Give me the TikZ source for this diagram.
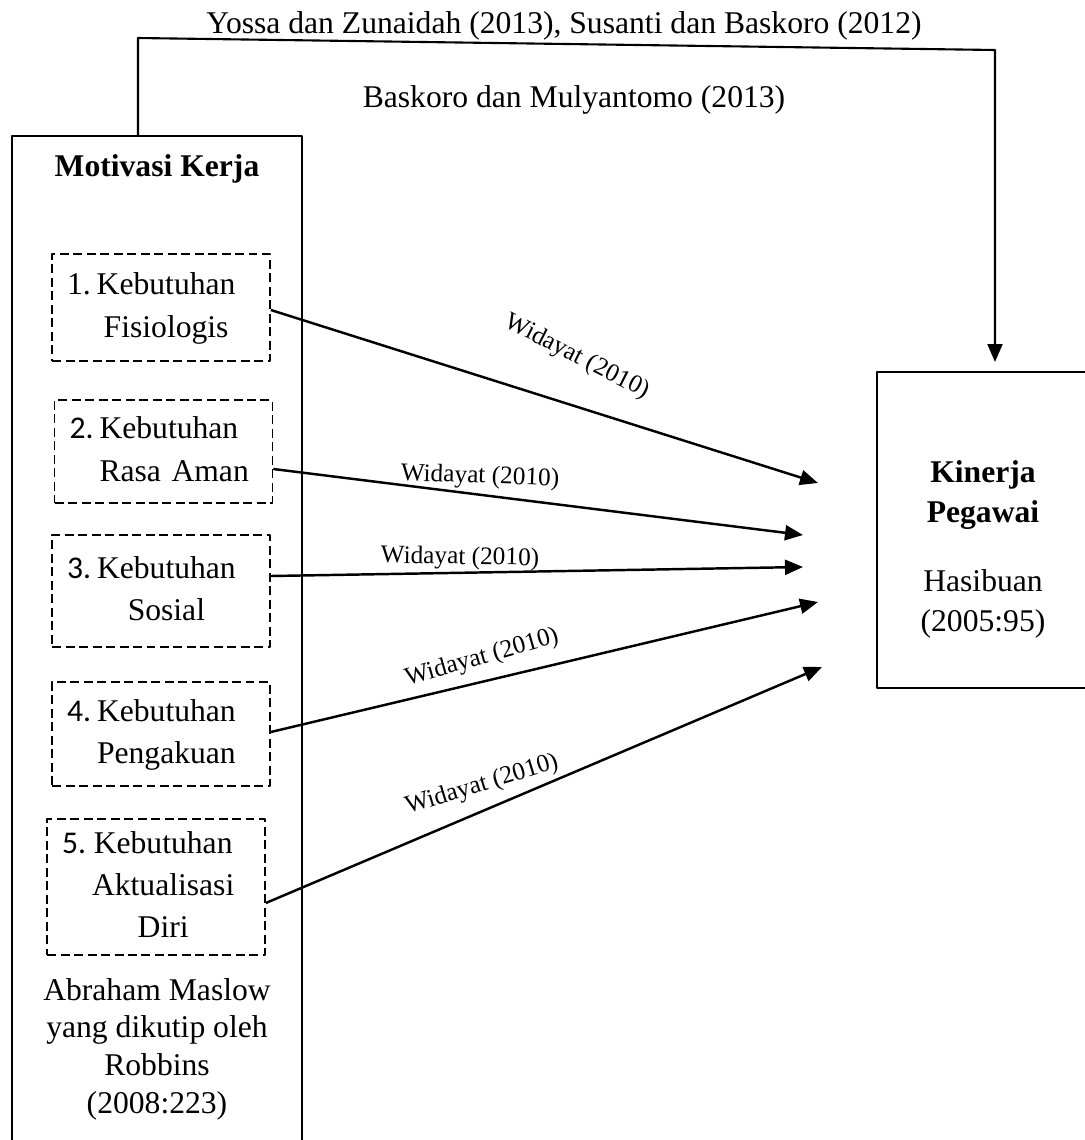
\documentclass[tikz,border=0pt]{standalone}
\usepackage{fontspec}
\setmainfont{Liberation Serif}
\newfontfamily\carl{Carlito}
\usetikzlibrary{arrows.meta}
\newcommand{\need}[3][c]{\begin{tabular}{@{}l@{\hspace{0.12cm}}#1@{}}#2&Kebutuhan\\#3\end{tabular}}
\begin{document}
\begin{tikzpicture}[x=0.02cm, y=-0.02cm, line join=round, >={Triangle[length=0.36cm,width=0.3cm]},
        execute at begin picture={\fontsize{18}{24}\selectfont},
        boxframe/.style={draw, line width=1.1pt, inner sep=0pt},
        needbox/.style={draw, line width=1pt, dash pattern=on 0.18cm off 0.09cm, inner xsep=0.3cm, inner ysep=0pt, text width=3.76cm, align=left},
        citelabel/.style={font=\fontsize{14.4}{16}\selectfont, inner sep=1pt},
        linkarrow/.style={->, line width=1.4pt}]
                \clip (0,0) rectangle (1085,1140);
                % frames
                \node[boxframe, minimum width=5.8cm, minimum height=20.48cm] (mk) at (157,648) {};
                \node[boxframe, minimum width=4.36cm, minimum height=6.32cm] (kp) at (986,530) {};
                \node[anchor=base, font=\bfseries] (mt) at (157,176) {Motivasi Kerja};
                \node[align=center, font=\fontsize{18}{21.4}\selectfont] (src) at (157,1049) {Abraham Maslow\\yang dikutip oleh\\Robbins\\(2008:223)};
                \node[align=center, font=\fontsize{18}{22.8}\selectfont] (kpt) at (983,549) {\textbf{Kinerja}\\\textbf{Pegawai}\\[0.58cm]Hasibuan\\(2005:95)};
                % needs
                \node[needbox, minimum height=2.14cm] (b1) at (161,307.5) {\need{1.\hspace{0.2cm}}{&Fisiologis}};
                \node[needbox, minimum height=2.06cm] (b2) at (163.5,451.5) {\need[l]{\carl 2.}{&Rasa Aman}};
                \node[needbox, minimum height=2.24cm] (b3) at (161,591) {\need{\carl 3.}{&Sosial}};
                \node[needbox, minimum height=2.08cm] (b4) at (161,734) {\need{\carl 4.}{&Pengakuan}};
                \node[needbox, minimum height=2.72cm] (b5) at (156,887) {\need{\carl 5.}{&Aktualisasi\\&Diri}};
                % top link
                \node[anchor=base] (yz) at (564,33) {Yossa dan Zunaidah (2013), Susanti dan Baskoro (2012)};
                \node[anchor=base] (bm) at (574,107) {Baskoro dan Mulyantomo (2013)};
                \coordinate (c1) at (138,38);
                \coordinate (c2) at (995,50);
                \coordinate (c3) at (995,362);
                \draw[linkarrow, line width=1.2pt] (mk.north -| c1) -- (c1) -- (c2) -- (c3);
                % arrows
                \coordinate (t1) at (818,483);
                \coordinate (t2) at (803,535);
                \coordinate (t3) at (803,567);
                \coordinate (t4) at (818,602);
                \coordinate (t5) at (822,667);
                \draw[linkarrow] ([yshift=-0.05cm]b1.east) -- (t1);
                \draw[linkarrow] ([yshift=-0.35cm]b2.east) -- (t2);
                \draw[linkarrow] ([yshift=0.3cm]b3.east) -- (t3);
                \draw[linkarrow] ([yshift=0.04cm]b4.east) -- (t4);
                \draw[linkarrow] ([yshift=-0.32cm]b5.east) -- (t5);
                \node[citelabel, rotate=-27] (w1) at (577,357) {Widayat (2010)};
                \node[citelabel, rotate=-2] (w2) at (480,477) {Widayat (2010)};
                \node[citelabel, rotate=-1] (w3) at (460,558) {Widayat (2010)};
                \node[citelabel, rotate=16] (w4) at (482,658) {Widayat (2010)};
                \node[citelabel, rotate=17] (w5) at (482,785) {Widayat (2010)};
            \end{tikzpicture}
\end{document}
